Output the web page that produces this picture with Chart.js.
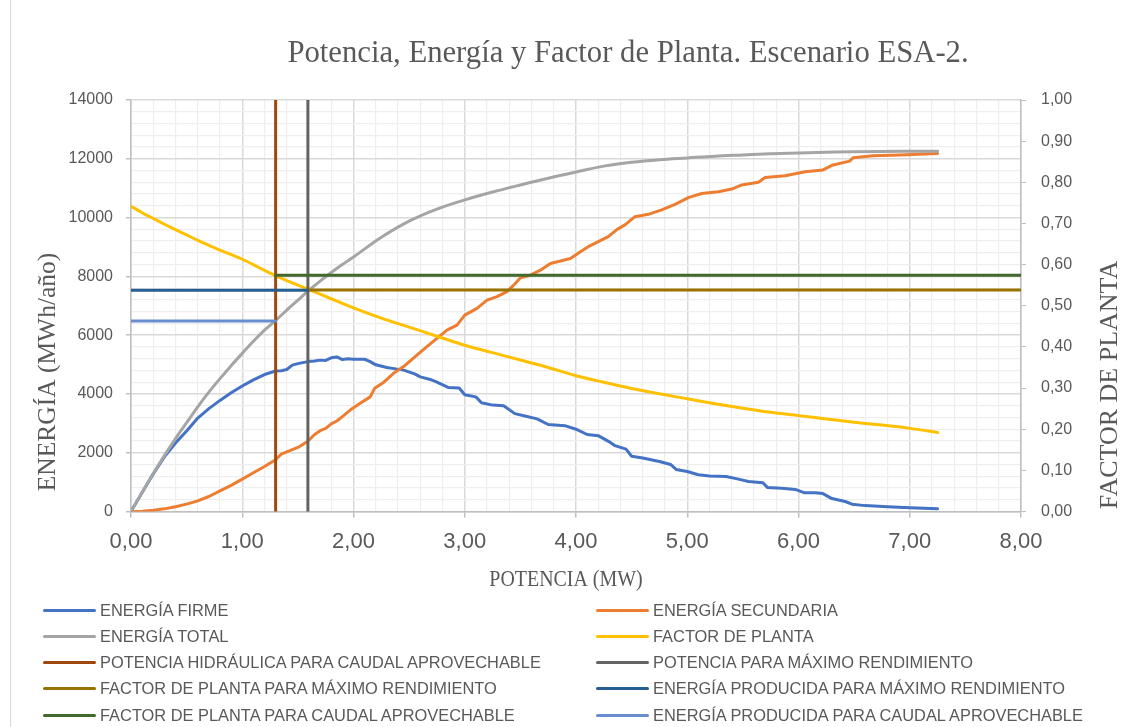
<!DOCTYPE html>
<html lang="es">
<head>
<meta charset="utf-8">
<title>Potencia, Energía y Factor de Planta. Escenario ESA-2.</title>
<script src="https://cdn.jsdelivr.net/npm/chart.js@4.4.1/dist/chart.umd.min.js"></script>
<style>
  html, body { margin: 0; padding: 0; background: #ffffff; }
  #wrap { position: relative; width: 1133px; height: 727px; overflow: hidden; background: #ffffff; }
  #frame { position: absolute; left: 10px; top: 0; width: 1px; height: 727px; background: #d9d9d9; }
  #c { position: absolute; left: 0; top: 0; }
  #legend { position: absolute; left: 0; top: 0; width: 1133px; height: 727px; pointer-events: none;
            font-family: "Liberation Sans", Arial, sans-serif; font-size: 16.4px; color: #595959; }
  .item { position: absolute; height: 20px; display: flex; align-items: center; white-space: nowrap; }
  .swatch { display: inline-block; width: 53px; height: 3px; margin-right: 4px; border-radius: 1.5px; }
</style>
</head>
<body>
<div id="wrap">
  <canvas id="c" width="1133" height="727"></canvas>
  <div id="frame"></div>
  <div id="legend"></div>
</div>
<script>
// Potencia instalada (MW) y energía firme (MWh/año)
const potenciaFirme = [0,0.1,0.2,0.3,0.4,0.5,0.6,0.7,0.8,0.9,1.0,1.1,1.2,1.3,1.35,1.4,1.45,1.5,1.59,1.65,1.7,1.75,1.8,1.85,1.9,1.95,2.0,2.1,2.15,2.2,2.3,2.35,2.45,2.55,2.6,2.7,2.75,2.85,2.95,3.0,3.1,3.15,3.25,3.35,3.45,3.55,3.65,3.75,3.9,4.0,4.1,4.2,4.3,4.35,4.45,4.5,4.6,4.75,4.85,4.9,5.0,5.1,5.2,5.35,5.45,5.55,5.68,5.72,5.85,5.97,6.05,6.15,6.22,6.3,6.42,6.48,6.6,6.8,7.0,7.25];
const energiaFirme = [0,650,1280,1860,2330,2740,3180,3500,3780,4040,4270,4480,4660,4780,4790,4830,4980,5030,5100,5120,5150,5140,5230,5260,5170,5200,5180,5180,5100,4990,4900,4870,4810,4680,4580,4480,4400,4220,4200,3970,3900,3700,3620,3600,3330,3240,3150,2960,2920,2800,2620,2580,2370,2240,2120,1880,1820,1700,1600,1430,1360,1250,1210,1190,1110,1020,980,820,790,750,640,640,610,440,340,250,200,160,130,90];

// Energía secundaria (MWh/año)
const potenciaSecundaria = [0,0.1,0.2,0.3,0.4,0.5,0.6,0.7,0.8,0.9,1.0,1.1,1.2,1.3,1.35,1.4,1.5,1.59,1.65,1.7,1.75,1.8,1.85,1.9,1.97,2.06,2.15,2.19,2.27,2.36,2.45,2.57,2.66,2.75,2.84,2.93,3.0,3.11,3.2,3.29,3.38,3.44,3.5,3.59,3.68,3.77,3.86,3.95,4.04,4.11,4.2,4.29,4.37,4.44,4.53,4.65,4.77,4.89,5.01,5.13,5.28,5.4,5.49,5.64,5.7,5.88,6.06,6.22,6.31,6.46,6.49,6.67,6.91,7.25];
const energiaSecundaria = [0,10,40,90,160,250,360,510,700,890,1100,1320,1530,1760,1950,2030,2180,2390,2620,2750,2830,2980,3080,3230,3450,3680,3900,4190,4390,4700,4930,5320,5610,5890,6170,6340,6680,6910,7190,7310,7480,7700,7950,8040,8210,8440,8520,8610,8840,9010,9180,9350,9600,9750,10030,10110,10260,10450,10680,10820,10880,10970,11110,11200,11360,11420,11560,11620,11790,11920,12035,12100,12130,12180];

// Energía total (MWh/año) y factor de planta
const potenciaTotal = [0,0.1,0.2,0.3,0.4,0.5,0.6,0.7,0.8,0.9,1.0,1.1,1.2,1.3,1.4,1.5,1.6,1.7,1.8,1.9,2.0,2.25,2.5,2.75,3.0,3.25,3.5,3.75,4.0,4.25,4.5,4.75,5.0,5.25,5.5,5.75,6.0,6.25,6.5,6.75,7.0,7.25];
const energiaTotal = [0,650,1290,1900,2480,3020,3560,4060,4520,4960,5380,5790,6170,6500,6850,7190,7530,7840,8130,8400,8660,9330,9880,10290,10600,10870,11110,11340,11550,11750,11880,11970,12030,12090,12130,12170,12200,12220,12240,12250,12255,12260];
const factorPlanta = [0.742,0.726,0.712,0.698,0.685,0.672,0.659,0.647,0.635,0.624,0.613,0.600,0.586,0.573,0.561,0.550,0.539,0.528,0.517,0.506,0.495,0.470,0.448,0.426,0.404,0.386,0.368,0.350,0.330,0.314,0.299,0.286,0.274,0.262,0.251,0.241,0.233,0.225,0.217,0.210,0.202,0.192];

// Puntos de diseño
const potenciaCaudal = 1.30;        // MW, caudal aprovechable
const potenciaMaxRend = 1.59;       // MW, máximo rendimiento
const energiaCaudal = 6480;         // MWh/año
const energiaMaxRend = 7530;        // MWh/año
const factorCaudal = 0.574;
const factorMaxRend = 0.538;

// Ejes
const potenciaMax = 8;
const energiaMax = 14000;
const xTickLabels = ['0,00','1,00','2,00','3,00','4,00','5,00','6,00','7,00','8,00'];
const yTickLabels = ['0','2000','4000','6000','8000','10000','12000','14000'];
const y1TickLabels = ['0,00','0,10','0,20','0,30','0,40','0,50','0,60','0,70','0,80','0,90','1,00'];

const seriesNames = [
  'ENERGÍA FIRME',
  'ENERGÍA SECUNDARIA',
  'ENERGÍA TOTAL',
  'FACTOR DE PLANTA',
  'POTENCIA HIDRÁULICA PARA CAUDAL APROVECHABLE',
  'POTENCIA PARA MÁXIMO RENDIMIENTO',
  'FACTOR DE PLANTA PARA MÁXIMO RENDIMIENTO',
  'ENERGÍA PRODUCIDA PARA MÁXIMO RENDIMIENTO',
  'FACTOR DE PLANTA PARA CAUDAL APROVECHABLE',
  'ENERGÍA PRODUCIDA PARA CAUDAL APROVECHABLE'
];
const seriesColors = ['#4472C4','#ED7D31','#A5A5A5','#FFC000','#9E480E','#636363','#997300','#255E91','#43682B','#698ED0'];

const pts = (xs, ys) => xs.map((x, i) => ({ x: x, y: ys[i] }));

const seriesData = [
  { d: pts(potenciaFirme, energiaFirme), axis: 'y' },
  { d: pts(potenciaSecundaria, energiaSecundaria), axis: 'y' },
  { d: pts(potenciaTotal, energiaTotal), axis: 'y', smooth: true },
  { d: pts(potenciaTotal, factorPlanta), axis: 'y1', smooth: true },
  { d: pts([potenciaCaudal, potenciaCaudal], [0, energiaMax]), axis: 'y' },
  { d: pts([potenciaMaxRend, potenciaMaxRend], [0, energiaMax]), axis: 'y' },
  { d: pts([potenciaMaxRend, potenciaMax], [factorMaxRend, factorMaxRend]), axis: 'y1' },
  { d: pts([0, potenciaMaxRend], [energiaMaxRend, energiaMaxRend]), axis: 'y' },
  { d: pts([potenciaCaudal, potenciaMax], [factorCaudal, factorCaudal]), axis: 'y1' },
  { d: pts([0, potenciaCaudal], [energiaCaudal, energiaCaudal]), axis: 'y' }
];

const datasets = seriesData.map((s, i) => ({
  label: seriesNames[i],
  data: s.d,
  yAxisID: s.axis,
  borderColor: seriesColors[i],
  backgroundColor: seriesColors[i],
  borderWidth: 3,
  pointRadius: 0,
  fill: false,
  borderCapStyle: 'round',
  borderJoinStyle: 'round',
  cubicInterpolationMode: s.smooth ? 'monotone' : 'default',
  tension: 0,
  order: seriesNames.length - i
}));

const GRID_MAJOR = '#d9d9d9';
const GRID_MINOR = '#eeeeee';
const AXIS = '#bfbfbf';
const TEXT = '#595959';
const SERIF = '"Liberation Serif", "Times New Roman", serif';
const SANS = '"Liberation Sans", Arial, sans-serif';

const isMult = (v, step) => Math.abs(v / step - Math.round(v / step)) < 1e-6;

// Serif text, optionally rotated and narrowed
function drawText(ctx, text, x, y, size, angle, sx) {
  ctx.save();
  ctx.translate(x, y);
  ctx.rotate(angle);
  ctx.scale(sx, 1);
  ctx.font = size + 'px ' + SERIF;
  ctx.fillText(text, 0, 0);
  ctx.restore();
}

// Chart title and axis titles
const titlesPlugin = {
  id: 'titles',
  afterDraw(chart) {
    const ctx = chart.ctx;
    ctx.save();
    ctx.fillStyle = TEXT;
    ctx.textAlign = 'center';
    ctx.textBaseline = 'middle';
    drawText(ctx, 'Potencia, Energía y Factor de Planta. Escenario ESA-2.', 628, 54, 31, 0, 0.99);
    drawText(ctx, 'POTENCIA (MW)', 566, 580, 24, 0, 0.83);
    drawText(ctx, 'ENERGÍA (MWh/año)', 48, 372, 25.5, -Math.PI / 2, 1);
    drawText(ctx, 'FACTOR DE PLANTA', 1110, 385, 26, -Math.PI / 2, 1);
    ctx.restore();
  }
};

const chart = new Chart(document.getElementById('c'), {
  type: 'line',
  data: { datasets: datasets },
  plugins: [titlesPlugin],
  options: {
    responsive: false,
    animation: false,
    devicePixelRatio: 1,
    layout: { padding: { top: 100, left: 0, right: 0, bottom: 0 } },
    plugins: { legend: { display: false }, tooltip: { enabled: false }, title: { display: false } },
    elements: { line: { borderWidth: 3 } },
    scales: {
      x: {
        type: 'linear',
        position: 'bottom',
        min: 0,
        max: potenciaMax,
        afterFit(s) { s.height = 215.5; },
        border: { color: AXIS, width: 1.5 },
        grid: {
          color: c => isMult(c.tick.value, 1) ? GRID_MAJOR : GRID_MINOR,
          lineWidth: c => isMult(c.tick.value, 1) ? 1.5 : 1.2,
          tickColor: c => isMult(c.tick.value, 1) ? AXIS : 'rgba(0,0,0,0)',
          tickLength: 6
        },
        ticks: {
          stepSize: 0.2,
          autoSkip: false,
          maxRotation: 0,
          padding: 11,
          color: TEXT,
          font: { family: SANS, size: 22 },
          callback: v => isMult(v, 1) ? xTickLabels[Math.round(v)] : ''
        }
      },
      y: {
        type: 'linear',
        position: 'left',
        min: 0,
        max: energiaMax,
        afterFit(s) { s.width = 131; },
        border: { color: AXIS, width: 1.5 },
        grid: {
          color: c => isMult(c.tick.value, 2000) ? GRID_MAJOR : GRID_MINOR,
          lineWidth: c => isMult(c.tick.value, 2000) ? 1.5 : 1.2,
          tickColor: c => isMult(c.tick.value, 2000) ? AXIS : 'rgba(0,0,0,0)',
          tickLength: 5
        },
        ticks: {
          stepSize: 400,
          autoSkip: false,
          padding: 13,
          color: TEXT,
          font: { family: SANS, size: 16 },
          callback: v => isMult(v, 2000) ? yTickLabels[Math.round(v / 2000)] : ''
        }
      },
      y1: {
        type: 'linear',
        position: 'right',
        min: 0,
        max: 1,
        afterFit(s) { s.width = 112; },
        border: { color: AXIS, width: 1.5 },
        grid: { drawOnChartArea: false, tickLength: 5, tickColor: AXIS },
        ticks: {
          stepSize: 0.1,
          autoSkip: false,
          padding: 15,
          color: TEXT,
          font: { family: SANS, size: 16 },
          callback: v => y1TickLabels[Math.round(v * 10)]
        }
      }
    }
  }
});

// Legend in two columns below the plot
const legend = document.getElementById('legend');
seriesNames.forEach((name, i) => {
  const col = i % 2, row = Math.floor(i / 2);
  const item = document.createElement('div');
  item.className = 'item';
  item.style.left = (col === 0 ? 43 : 596) + 'px';
  item.style.top = (600 + row * 26.3) + 'px';
  const sw = document.createElement('span');
  sw.className = 'swatch';
  sw.style.background = seriesColors[i];
  const tx = document.createElement('span');
  tx.textContent = name;
  item.appendChild(sw);
  item.appendChild(tx);
  legend.appendChild(item);
});
</script>
</body>
</html>
